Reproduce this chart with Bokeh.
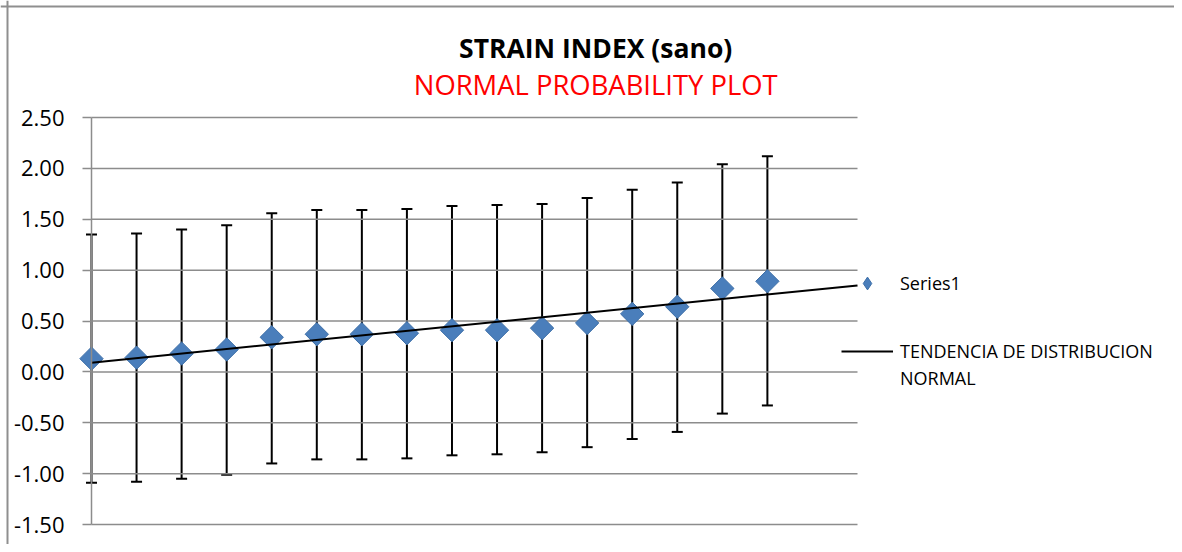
import math
from bokeh.plotting import figure
from bokeh.models import (Range1d, FixedTicker, NumeralTickFormatter, Whisker, TeeHead,
                          ColumnDataSource, Legend, LegendItem, Label, Span)
from bokeh.embed import file_html
from bokeh.resources import INLINE

# ---- data ----
point_index = [1, 2, 3, 4, 5, 6, 7, 8, 9, 10, 11, 12, 13, 14, 15, 16]
values = [0.13, 0.14, 0.18, 0.22, 0.34, 0.37, 0.37, 0.38, 0.41, 0.41, 0.43, 0.48, 0.57, 0.64, 0.82, 0.89]
upper = [1.35, 1.36, 1.40, 1.44, 1.56, 1.59, 1.59, 1.60, 1.63, 1.64, 1.65, 1.71, 1.79, 1.86, 2.04, 2.12]
lower = [-1.09, -1.08, -1.05, -1.01, -0.90, -0.86, -0.86, -0.85, -0.82, -0.81, -0.79, -0.74, -0.66, -0.59, -0.41, -0.33]
trend_x = [1, 18]
trend_y = [0.09, 0.85]
y_ticks = [-1.5, -1.0, -0.5, 0.0, 0.5, 1.0, 1.5, 2.0, 2.5]

title_text = "STRAIN INDEX (sano)"
subtitle_text = "NORMAL PROBABILITY PLOT"
series_label = "Series1"
trend_label_1 = "TENDENCIA DE DISTRIBUCION"
trend_label_2 = "NORMAL"

FONT = "Open Sans"
GRID = "#8c8c8c"
BLUE = "#4a7ebb"

# ---- layout: the frame fills the whole canvas so nothing is clipped ----
W, H = 1174, 544
PX_X = 45.06     # pixels per x unit
PX_Y = 101.75    # pixels per y unit
PLOT_L, PLOT_R, PLOT_T, PLOT_B = 91, 857, 117, 524   # plot area in canvas px
x_start = 1 - PLOT_L / PX_X
x_end = 18 + (W - PLOT_R) / PX_X
y_end = 2.5 + PLOT_T / PX_Y
y_start = -1.5 - (H - PLOT_B) / PX_Y

p = figure(width=W, height=H, output_backend="svg", toolbar_location=None,
           x_range=Range1d(x_start, x_end), y_range=Range1d(y_start, y_end),
           min_border_left=0, min_border_right=0, min_border_top=0,
           min_border_bottom=0, title=None)
p.outline_line_color = None
p.background_fill_color = "white"
p.border_fill_color = "white"

p.xaxis.visible = False
p.xgrid.visible = False
p.ygrid.visible = False

ya = p.yaxis[0]
ya.fixed_location = 1
ya.bounds = (-1.5, 2.5)
ya.ticker = FixedTicker(ticks=y_ticks)
ya.formatter = NumeralTickFormatter(format="0.00")
ya.axis_line_color = GRID
ya.axis_line_width = 1.5
ya.major_tick_line_color = GRID
ya.major_tick_line_width = 1.5
ya.major_tick_out = 9
ya.major_tick_in = 0
ya.minor_tick_line_color = None
ya.major_label_text_font = FONT
ya.major_label_text_font_size = "22px"
ya.major_label_text_color = "black"
ya.major_label_standoff = 18

# horizontal gridlines across the plot area
p.segment(x0=[1] * len(y_ticks), x1=[18] * len(y_ticks), y0=y_ticks, y1=y_ticks,
          line_color=GRID, line_width=1.5)

# chart border (top and left)
p.add_layout(Span(location=y_end - 6.0 / PX_Y, dimension="width", line_color="#8f8f8f", line_width=2))
p.add_layout(Span(location=x_start + 7.0 / PX_X, dimension="height", line_color="#8f8f8f", line_width=2))

src = ColumnDataSource(dict(x=point_index, y=values, upper=upper, lower=lower))

whisk = Whisker(source=src, base="x", upper="upper", lower="lower",
                line_color="black", line_width=2,
                upper_head=TeeHead(size=11, line_color="black", line_width=2),
                lower_head=TeeHead(size=11, line_color="black", line_width=2))
p.add_layout(whisk)

# legend-only glyph (diamond key); size 0 so nothing shows in the plot itself
legend_marker = p.scatter("x", "y", source=src, marker="diamond", size=0,
                          fill_color=BLUE, line_color="#3d6fa8")

pts = p.scatter("x", "y", source=src, marker="square", size=16.5, angle=math.pi / 4,
                fill_color=BLUE, line_color="#3d6fa8", line_width=1)

trend = p.line(trend_x, trend_y, line_color="black", line_width=2)
blank = p.line(trend_x, trend_y, line_alpha=0)

# titles (centred over the chart area)
p.add_layout(Label(x=12.19, y=3.18, text=title_text, text_font=FONT, text_font_size="26.5px",
                   text_font_style="bold", text_color="black", text_align="center",
                   text_baseline="middle"))
p.add_layout(Label(x=12.19, y=2.82, text=subtitle_text, text_font=FONT, text_font_size="27.4px",
                   text_color="#ff0000", text_align="center", text_baseline="middle"))

def mk_legend(items, loc, gh):
    return Legend(items=items, location=loc, orientation="vertical",
                  glyph_width=52, glyph_height=gh, label_height=20, label_standoff=7,
                  spacing=3, padding=0, margin=0, border_line_color=None,
                  background_fill_alpha=0, label_text_font=FONT,
                  label_text_font_size="18px", label_text_color="black")

leg1 = mk_legend([LegendItem(label=series_label, renderers=[legend_marker])], (841, 245), 32)
leg2 = mk_legend([LegendItem(label=trend_label_1, renderers=[trend]),
                  LegendItem(label=trend_label_2, renderers=[blank])], (841, 154), 20)
p.add_layout(leg1)
p.add_layout(leg2)

open("out.html", "w").write(file_html(p, INLINE))
